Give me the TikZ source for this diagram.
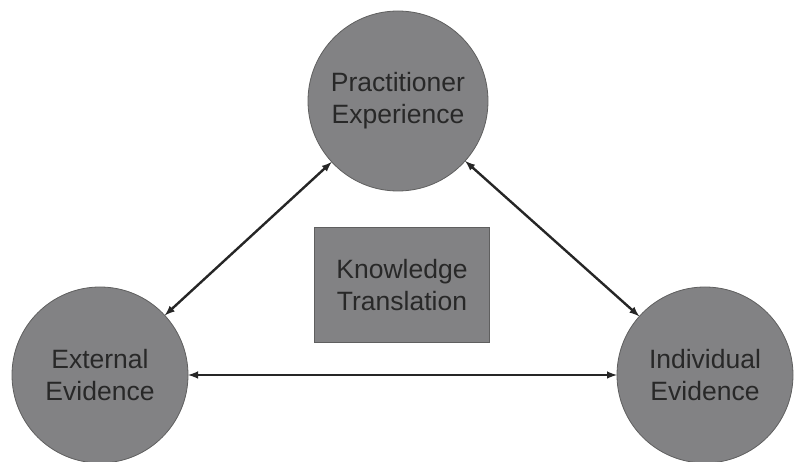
\documentclass[tikz,border=0pt]{standalone}
\usepackage{fontspec}
\setmainfont{Liberation Sans}
\definecolor{fillgray}{RGB}{130,130,132}
\definecolor{edgegray}{RGB}{95,95,95}
\definecolor{txtgray}{RGB}{40,40,40}
\begin{document}
\begin{tikzpicture}[x=1pt,y=-1pt,>=latex,
    ball/.style={circle,fill=fillgray,draw=edgegray,line width=0.8pt,text=txtgray,align=center,
                 font=\fontsize{26.5}{32}\selectfont,inner sep=0pt,outer sep=0pt},
    panel/.style={rectangle,fill=fillgray,draw=edgegray,line width=0.8pt,text=txtgray,align=center,
                 font=\fontsize{26.5}{32}\selectfont,minimum width=175pt,minimum height=115pt,inner sep=0pt},
    link/.style={<->,line width=2.4pt,draw=black!85}]
        \useasboundingbox (0,0) rectangle (796,462);
        \draw (398,101) node[ball,minimum size=180pt] (prac) {Practitioner\\Experience};
        \draw (100,375) node[ball,minimum size=176pt] (ext) {External\\Evidence};
        \draw (705,375) node[ball,minimum size=176pt] (ind) {Individual\\Evidence};
        \draw (402,285) node[panel] (kt) {Knowledge\\Translation};
        \draw[link] (ext) -- (prac);
        \draw[link] (prac) -- (ind);
        \draw[link] (ext) -- (ind);
    \end{tikzpicture}
\end{document}
